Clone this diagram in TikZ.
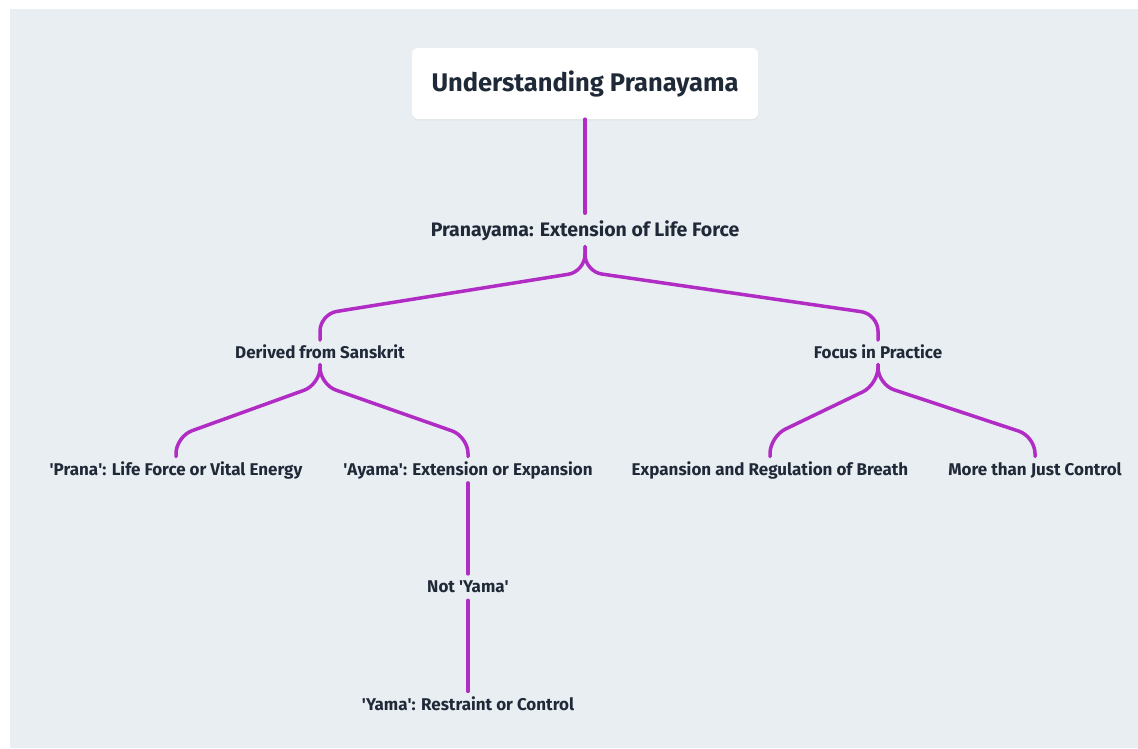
\documentclass[tikz,border=0pt]{standalone}
\usepackage{fontspec}
\setmainfont{Fira Sans}
\usetikzlibrary{positioning,shadows}

\definecolor{bgcol}{HTML}{E9EEF2}
\definecolor{inkcol}{HTML}{1F2937}
\definecolor{linkcol}{HTML}{B02CC4}
\newcommand{\sq}{\textquotesingle}

\begin{document}
\begin{tikzpicture}[x=1pt,y=-1pt,
  title/.style={fill=white, rounded corners=6pt, minimum width=346pt, minimum height=71pt,
    text=inkcol, font=\fontsize{25.5}{30}\selectfont\bfseries,
    drop shadow={opacity=0.08, shadow xshift=0pt, shadow yshift=-1.5pt}},
  topic/.style={inner sep=0pt, minimum height=33pt, text height=13pt, text depth=0pt,
    text=inkcol, font=\fontsize{19.5}{23}\selectfont\bfseries},
  sub/.style={inner sep=0pt, minimum height=24pt, text height=11.5pt, text depth=0pt,
    text=inkcol, font=\fontsize{17}{20}\selectfont\bfseries},
  leaf/.style={sub, minimum height=26pt},
  link/.style={draw=linkcol, line width=3.5pt, line cap=round, rounded corners=17pt}]

  \useasboundingbox (0,0) rectangle (1138,748);
  \fill[bgcol] (10,9) rectangle (1138,748);

  \node[title] (root) at (585,83.5) {Understanding Pranayama};
  \node[topic] (ext) [below=94pt of root] {Pranayama: Extension of Life Force};

  \node[sub] (der) [below=93.5pt of ext, xshift=-265pt] {Derived from Sanskrit};
  \node[sub] (foc) [below=93.5pt of ext, xshift=293pt] {Focus in Practice};

  \node[leaf] (prana) [below=92pt of der, xshift=-144pt] {\sq Prana\sq: Life Force or Vital Energy};
  \node[leaf] (ayama) [below=92pt of der, xshift=148pt] {\sq Ayama\sq: Extension or Expansion};
  \node[leaf] (breath) [below=92pt of foc, xshift=-108pt] {Expansion and Regulation of Breath};
  \node[leaf] (more) [below=92pt of foc, xshift=157pt] {More than Just Control};

  \node[leaf] (notyama) [below=91pt of ayama] {Not \sq Yama\sq};
  \node[leaf] (yama) [below=91pt of notyama] {\sq Yama\sq: Restraint or Control};

  % straight links
  \draw[link] (root.south) -- (ext.north);
  \draw[link] (ayama.south) -- (notyama.north);
  \draw[link] (notyama.south) -- (yama.north);

  % forks
  \draw[link] (ext.south) -- ([yshift=-25pt]ext.south) -- ([yshift=26pt]der.north) -- (der.north);
  \draw[link] (ext.south) -- ([yshift=-25pt]ext.south) -- ([yshift=26pt]foc.north) -- (foc.north);

  \draw[link] (der.south) -- ([yshift=-20pt]der.south) -- ([yshift=20pt]prana.north) -- (prana.north);
  \draw[link] (der.south) -- ([yshift=-20pt]der.south) -- ([yshift=20pt]ayama.north) -- (ayama.north);
  \draw[link] (foc.south) -- ([yshift=-20pt]foc.south) -- ([yshift=20pt]breath.north) -- (breath.north);
  \draw[link] (foc.south) -- ([yshift=-20pt]foc.south) -- ([yshift=20pt]more.north) -- (more.north);

\end{tikzpicture}
\end{document}
